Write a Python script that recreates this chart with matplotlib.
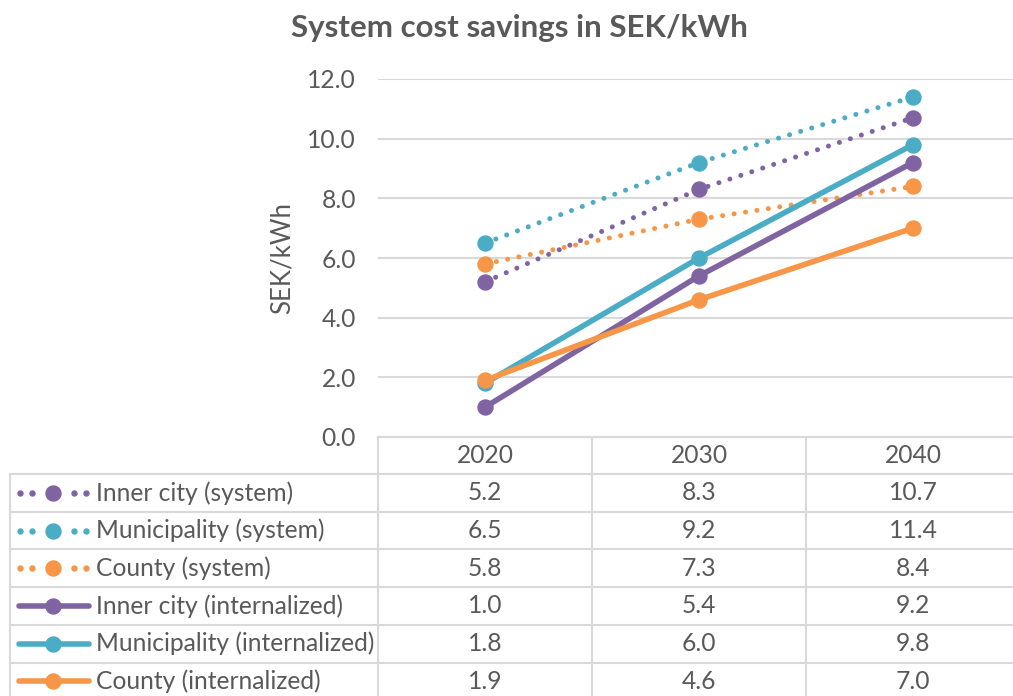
import matplotlib
matplotlib.use("Agg")
import matplotlib.pyplot as plt
from matplotlib.transforms import blended_transform_factory

plt.rcParams['font.family'] = ['Lato', 'DejaVu Sans']

years = ['2020', '2030', '2040']
series_names = ['Inner city (system)', 'Municipality (system)', 'County (system)',
                'Inner city (internalized)', 'Municipality (internalized)', 'County (internalized)']
inner_sys = [5.2, 8.3, 10.7]
muni_sys = [6.5, 9.2, 11.4]
county_sys = [5.8, 7.3, 8.4]
inner_int = [1.0, 5.4, 9.2]
muni_int = [1.8, 6.0, 9.8]
county_int = [1.9, 4.6, 7.0]
all_values = [inner_sys, muni_sys, county_sys, inner_int, muni_int, county_int]

purple = '#8064A2'
teal = '#4BACC6'
orange = '#F79646'
colors = [purple, teal, orange, purple, teal, orange]
dotted = [True, True, True, False, False, False]
text_col = '#595959'
grid_col = '#D9D9D9'
fs = 17.7

W, H = 1013, 696
fig = plt.figure(figsize=(W / 100, H / 100), dpi=100)

# plot area in pixels
left, right, top, bottom = 378, 1020, 79, 437
ax = fig.add_axes([left / W, (H - bottom) / H, (right - left) / W, (bottom - top) / H])
ax.set_xlim(-0.5, 2.5)
ax.set_ylim(0, 12)
ax.set_yticks(range(0, 13, 2))
ax.set_yticklabels([f'{v:.1f}' for v in range(0, 13, 2)])
ax.tick_params(axis='y', length=0, pad=16, labelsize=fs, labelcolor=text_col)
ax.set_xticks([])
for s in ax.spines.values():
    s.set_visible(False)
ax.grid(axis='y', color=grid_col, lw=1.5)
ax.set_axisbelow(True)
ax.set_ylabel('SEK/kWh', fontsize=18.5, color=text_col, labelpad=9)
ax.patch.set_alpha(0)

x = range(len(years))
for vals, c, d in zip(all_values, colors, dotted):
    if d:
        ax.plot(x, vals, color=c, lw=3.6, linestyle=(0, (0.01, 2.3)),
                dash_capstyle='round', zorder=3)
        ax.plot(x, vals, 'o', color=c, ms=10.8, zorder=4)
    else:
        ax.plot(x, vals, '-o', color=c, lw=4, ms=10.8, solid_capstyle='round', zorder=3)

fig.text(519 / W, 1 - 28 / H, 'System cost savings in SEK/kWh', ha='center', va='center',
         fontsize=22.5, fontweight='bold', color=text_col)

# data table underneath, drawn in pixel space
tab = fig.add_axes([0, 0, 1, 1])
tab.set_xlim(0, W)
tab.set_ylim(H, 0)
tab.axis('off')
tab.patch.set_alpha(0)

row_top = 474
row_h = 37.7
n_rows = len(series_names)
lw_tab = 1.5
tab.plot([left, W], [bottom, bottom], color=grid_col, lw=lw_tab)
for i in range(n_rows + 1):
    y = row_top + i * row_h
    tab.plot([10, W], [y, y], color=grid_col, lw=lw_tab)
tab.plot([10, 10], [row_top, H], color=grid_col, lw=lw_tab)
col_w = (right - left) / 3
for j in range(3):
    xx = left + j * col_w
    tab.plot([xx, xx], [bottom, H], color=grid_col, lw=lw_tab)

tr = blended_transform_factory(ax.transData, tab.transData)
for j, yr in enumerate(years):
    tab.text(j, (bottom + row_top) / 2, yr, transform=tr, ha='center', va='center',
             fontsize=fs, color=text_col)

for i, (name, vals, c, d) in enumerate(zip(series_names, all_values, colors, dotted)):
    yc = row_top + (i + 0.5) * row_h
    if d:
        tab.plot([20, 32, 74, 86], [yc] * 4, 'o', color=c, ms=3.6, lw=0)
    else:
        tab.plot([19, 89], [yc, yc], color=c, lw=4, solid_capstyle='round')
    tab.plot([53], [yc], 'o', color=c, ms=10.8)
    tab.text(96, yc, name, ha='left', va='center', fontsize=fs, color=text_col)
    for j, v in enumerate(vals):
        tab.text(j, yc, f'{v:.1f}', transform=tr, ha='center', va='center',
                 fontsize=fs, color=text_col)

fig.savefig('out.png', dpi=100)
